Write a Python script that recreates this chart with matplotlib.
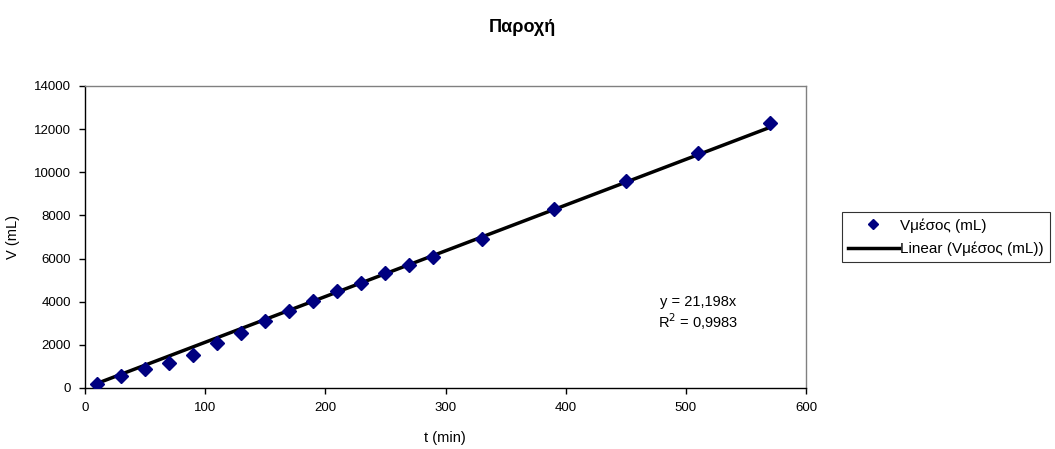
import matplotlib
matplotlib.use("Agg")
import matplotlib.pyplot as plt
import numpy as np

plt.rcParams['font.family'] = ['Liberation Sans', 'DejaVu Sans']

t_min = [10, 30, 50, 70, 90, 110, 130, 150, 170, 190, 210, 230, 250, 270, 290, 330, 390, 450, 510, 570]
v_mean = [190, 560, 880, 1150, 1550, 2080, 2540, 3120, 3590, 4050, 4500, 4880, 5350, 5690, 6090, 6910, 8290, 9600, 10880, 12270]
slope = 21.198
r2 = 0.9983

x_ticks = [0, 100, 200, 300, 400, 500, 600]
y_ticks = [0, 2000, 4000, 6000, 8000, 10000, 12000, 14000]

W, H = 1055, 449
fig = plt.figure(figsize=(W/100, H/100), dpi=100)
ax = fig.add_axes([85/W, 1-388/H, (806-85)/W, (388-86)/H])

ax.plot(t_min, v_mean, linestyle='none', marker='D', markersize=7,
        color='#000080', label='Vμέσος (mL)', zorder=3)
xt = np.array([min(t_min), max(t_min)])
ax.plot(xt, slope*xt, color='black', linewidth=2.5, label='Linear (Vμέσος (mL))', zorder=2)

ax.set_xlim(0, 600)
ax.set_ylim(0, 14000)
ax.set_xticks(x_ticks)
ax.set_yticks(y_ticks)
ax.tick_params(labelsize=9.5, direction='out', length=4, width=1, pad=6)
for s in ['left', 'bottom']:
    ax.spines[s].set_color('black')
    ax.spines[s].set_linewidth(1)
for s in ['top', 'right']:
    ax.spines[s].set_color('#808080')
    ax.spines[s].set_linewidth(1)

fig.text(445/W, 1-438/H, 't (min)', ha='center', va='center', fontsize=10.5)
fig.text(13/W, 1-237/H, 'V (mL)', ha='center', va='center', fontsize=10.5, rotation=90)
fig.text(522/W, 1-28/H, 'Παροχή', ha='center', va='center', fontsize=13, fontweight='bold')

ax.text(510, 3990, 'y = %s' % f'{slope:.3f}'.replace('.', ',') + 'x', ha='center', va='center', fontsize=10.5)
ax.text(510, 3060, r'R$^2$ = ' + f'{r2:.4f}'.replace('.', ','), ha='center', va='center', fontsize=10.5)

leg = fig.legend(loc='upper left', bbox_to_anchor=(842/W, 1-212/H), fontsize=11,
                 frameon=True, fancybox=False, edgecolor='black', borderpad=0.4,
                 handlelength=3.3, handletextpad=0.1, labelspacing=0.6, borderaxespad=0,
                 markerscale=0.7)
leg.get_frame().set_linewidth(0.8)

fig.savefig('out.png', dpi=100)
